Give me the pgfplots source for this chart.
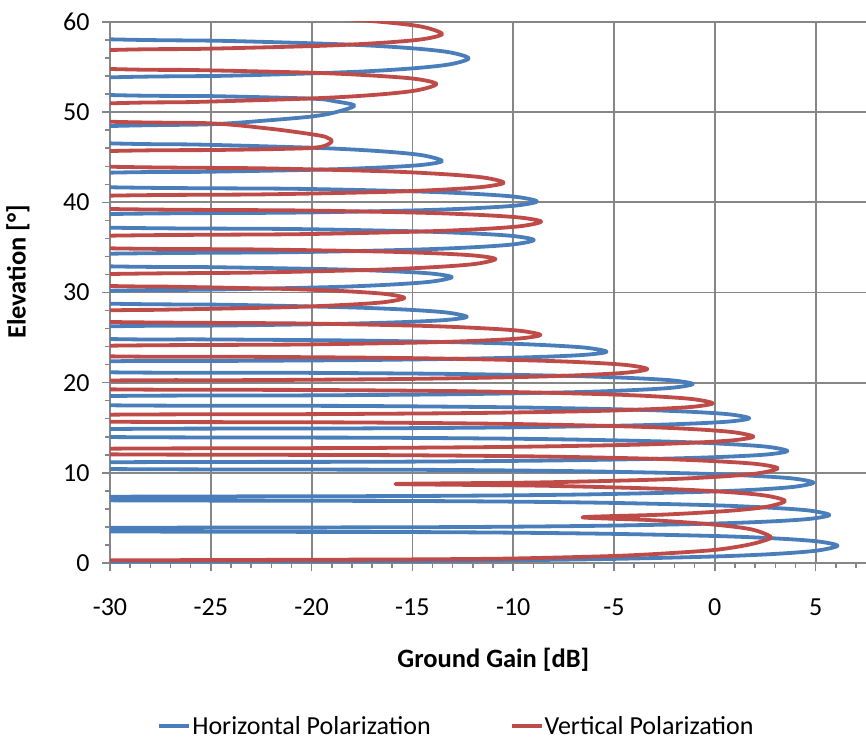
\documentclass[border=0pt]{standalone}
\usepackage{fontspec}
\setmainfont{Carlito}
\usepackage{pgfplots}
\pgfplotsset{compat=1.18}
\definecolor{hblue}{HTML}{4A7EBB}
\definecolor{vred}{HTML}{BE4B48}
\definecolor{gridgray}{HTML}{868686}
\begin{document}
\begin{tikzpicture}
\begin{axis}[
  scale only axis, width=756bp, height=541bp,
  xmin=-30, xmax=7.5, ymin=0, ymax=60,
  xtick={-30,-25,...,5}, xticklabels={-30,-25,-20,-15,-10,-5,0,5},
  ytick={0,10,...,60}, yticklabels={0,10,20,30,40,50,60},
  minor xtick={-29,-28,...,7}, minor ytick={2,4,...,58},
  tick align=outside, major tick length=8bp, minor tick length=5bp,
  every tick/.style={gridgray, line width=1.5bp},
  grid=major, major grid style={gridgray, line width=1.8bp},
  axis x line*=bottom, axis y line*=left,
  axis line style={gridgray, line width=1.8bp, -},
  ticklabel style={font=\fontsize{26bp}{30bp}\selectfont, text=black},
  xticklabel style={yshift=-24bp},
  yticklabel style={xshift=-9bp},
  xlabel={\textbf{Ground Gain [dB]}}, ylabel={\textbf{Elevation [°]}},
  label style={font=\fontsize{26.5bp}{30bp}\selectfont},
  xlabel style={at={(axis description cs:0.507,-0.1793)}, anchor=center},
  ylabel style={at={(axis description cs:-0.1217,0.538)}, anchor=center},
  legend style={at={(axis description cs:0.4577,-0.3010)}, anchor=center,
    draw=none, fill=none, legend columns=2,
    font=\fontsize{26bp}{30bp}\selectfont,
    nodes={inner sep=1bp},
    /tikz/every even column/.append style={column sep=78bp}},
  legend image code/.code={\draw[#1, line width=3.8bp] (0bp,0bp) -- (30bp,0bp);},
]
\addplot[hblue, line width=3.8bp, smooth, line join=round] coordinates {
(-45,0) (-30,0.15)
(-13.92,0.24) (-5.92,0.42) (0.08,0.73) (3.08,1.02) (5.08,1.38) (6.08,1.92) (5.08,2.40) (3.08,2.72) (0.08,2.99) (-5.92,3.26) (-13.92,3.42) (-30,3.5)
(-45,3.7)
(-30,3.9) (-14.32,3.97) (-6.32,4.11) (-0.32,4.36) (2.68,4.60) (4.68,4.89) (5.68,5.32) (4.68,5.82) (2.68,6.14) (-0.32,6.42) (-6.32,6.71) (-14.32,6.87) (-30,6.95)
(-45,7.15)
(-30,7.35) (-15.11,7.43) (-7.11,7.58) (-1.11,7.86) (1.89,8.12) (3.89,8.44) (4.89,8.91) (3.89,9.37) (1.89,9.67) (-1.11,9.93) (-7.11,10.19) (-15.11,10.34) (-30,10.42)
(-45,10.8)
(-30,11.17) (-16.4,11.23) (-8.4,11.36) (-2.4,11.58) (0.6,11.79) (2.6,12.04) (3.6,12.42) (2.6,12.89) (0.6,13.20) (-2.4,13.47) (-8.4,13.74) (-16.4,13.89) (-30,13.97)
(-45,14.4)
(-30,14.86) (-18.29,14.92) (-10.29,15.04) (-4.29,15.25) (-1.29,15.45) (0.71,15.69) (1.71,16.05) (0.71,16.49) (-1.29,16.78) (-4.29,17.02) (-10.29,17.27) (-18.29,17.42) (-30,17.49)
(-45,18.0)
(-30,18.52) (-21.1,18.58) (-13.1,18.71) (-7.1,18.94) (-4.1,19.17) (-2.1,19.44) (-1.1,19.85) (-2.1,20.25) (-4.1,20.51) (-7.1,20.74) (-13.1,20.97) (-21.1,21.10) (-30,21.15)
(-45,21.76)
(-30,22.37) (-25.37,22.40) (-17.37,22.51) (-11.37,22.70) (-8.37,22.88) (-6.37,23.10) (-5.37,23.43) (-6.37,23.87) (-8.37,24.16) (-11.37,24.41) (-17.37,24.66) (-25.37,24.80) (-30,24.84)
(-45,25.55)
(-30,26.25) (-24.3,26.34) (-18.3,26.54) (-15.3,26.73) (-13.3,26.96) (-12.3,27.3) (-13.3,27.78) (-15.3,28.10) (-18.3,28.36) (-24.3,28.64) (-30,28.76)
(-45,29.48)
(-30,30.2) (-25.05,30.32) (-19.05,30.60) (-16.05,30.88) (-14.05,31.21) (-13.05,31.7) (-14.05,32.10) (-16.05,32.36) (-19.05,32.58) (-25.05,32.81) (-30,32.9)
(-45,33.6)
(-30,34.3) (-20.98,34.47) (-14.98,34.75) (-11.98,35.02) (-9.98,35.34) (-8.98,35.82) (-9.98,36.26) (-11.98,36.55) (-14.98,36.79) (-20.98,37.04) (-30,37.19)
(-45,37.95)
(-30,38.7) (-20.83,38.86) (-14.83,39.11) (-11.83,39.36) (-9.83,39.65) (-8.83,40.1) (-9.83,40.60) (-11.83,40.93) (-14.83,41.21) (-20.83,41.50) (-30,41.67)
(-45,42.48)
(-30,43.29) (-25.53,43.38) (-19.53,43.63) (-16.53,43.87) (-14.53,44.15) (-13.53,44.58) (-14.53,45.23) (-16.53,45.66) (-19.53,46.02) (-25.53,46.40) (-30,46.54)
(-45,47.5)
(-30,48.46) (-25,48.66) (-22,49.12) (-20,49.52) (-18.88,49.95) (-17.88,50.72) (-18.88,51.22) (-20,51.5) (-25,51.78) (-30,51.9)
(-45,52.88)
(-30,53.86) (-24.21,54.04) (-18.21,54.44) (-15.21,54.82) (-13.21,55.28) (-12.21,55.97) (-13.21,56.66) (-15.21,57.12) (-18.21,57.50) (-24.21,57.90) (-30,58.08)
(-45,59) (-45,61)
};
\addlegendentry{Horizontal Polarization}
\addplot[vred, line width=3.8bp, smooth, line join=round] coordinates {
(-45,0.28) (-30,0.3) (-20,0.36) (-15,0.4) (-10,0.5) (-5,0.78) (-2.4,1.07) (0,1.45) (1.5,1.95) (2.4,2.45) (2.77,2.92)
(1.77,3.75) (-0.23,4.30) (-3.23,4.76) (-6.56,5.07)
(-2.52,5.37) (0.48,5.75) (2.48,6.20) (3.48,6.88) (2.48,7.49) (0.48,7.89) (-2.52,8.22) (-8.52,8.57) (-15.85,8.76)
(-8.88,8.93) (-2.88,9.25) (0.12,9.56) (2.12,9.94) (3.12,10.5) (2.12,10.97) (0.12,11.28) (-2.88,11.55) (-8.88,11.82) (-16.88,11.97) (-30,12.05)
(-45,12.36)
(-30,12.68) (-18.09,12.75) (-10.09,12.88) (-4.09,13.11) (-1.09,13.34) (0.91,13.61) (1.91,14.01) (0.91,14.51) (-1.09,14.85) (-4.09,15.13) (-10.09,15.42) (-18.09,15.59) (-30,15.67)
(-45,16.06)
(-30,16.45) (-20.11,16.51) (-12.11,16.63) (-6.11,16.85) (-3.11,17.07) (-1.11,17.32) (-0.11,17.71) (-1.11,18.18) (-3.11,18.50) (-6.11,18.76) (-12.11,19.04) (-20.11,19.19) (-30,19.26)
(-45,19.75)
(-30,20.24) (-23.35,20.28) (-15.35,20.41) (-9.35,20.64) (-6.35,20.86) (-4.35,21.12) (-3.35,21.51) (-4.35,21.95) (-6.35,22.24) (-9.35,22.48) (-15.35,22.73) (-23.35,22.87) (-30,22.92)
(-45,23.51)
(-30,24.10) (-20.65,24.23) (-14.65,24.45) (-11.65,24.66) (-9.65,24.91) (-8.65,25.29) (-9.65,25.75) (-11.65,26.05) (-14.65,26.31) (-20.65,26.57) (-30,26.73)
(-45,27.38)
(-30,28.02) (-27.4,28.09) (-21.4,28.36) (-18.4,28.62) (-16.4,28.93) (-15.4,29.4) (-16.4,29.85) (-18.4,30.15) (-21.4,30.40) (-27.4,30.66) (-30,30.72)
(-45,31.38)
(-30,32.05) (-22.88,32.21) (-16.88,32.52) (-13.88,32.82) (-11.88,33.17) (-10.88,33.71) (-11.88,34.09) (-13.88,34.35) (-16.88,34.56) (-22.88,34.78) (-30,34.90)
(-45,35.6)
(-30,36.30) (-20.62,36.47) (-14.62,36.76) (-11.62,37.03) (-9.62,37.36) (-8.62,37.86) (-9.62,38.30) (-11.62,38.60) (-14.62,38.85) (-20.62,39.10) (-30,39.26)
(-45,40.0)
(-30,40.74) (-22.47,40.88) (-16.47,41.15) (-13.47,41.41) (-11.47,41.72) (-10.47,42.18) (-11.47,42.75) (-13.47,43.13) (-16.47,43.45) (-22.47,43.77) (-30,43.95)
(-45,44.82)
(-30,45.69) (-25,45.8) (-22,45.9) (-20,46.03) (-19.3,46.3) (-19,46.8) (-19.3,47.25) (-20,47.55) (-22,48.15) (-25,48.76) (-30,48.94)
(-45,49.96)
(-30,50.98) (-25.81,51.13) (-19.81,51.54) (-16.81,51.93) (-14.81,52.41) (-13.81,53.12) (-14.81,53.68) (-16.81,54.04) (-19.81,54.36) (-25.81,54.67) (-30,54.79)
(-45,55.84)
(-30,56.89) (-25.53,57.02) (-19.53,57.36) (-16.53,57.69) (-14.53,58.08) (-13.53,58.67) (-14.53,59.48) (-16.53,60.01) (-19.53,60.46) (-25.53,60.92) (-30,61.1)
};
\addlegendentry{Vertical Polarization}
\end{axis}
\pgfresetboundingbox
\path[use as bounding box] (-110bp,-179bp) rectangle (756bp,563bp);
\end{tikzpicture}
\end{document}
